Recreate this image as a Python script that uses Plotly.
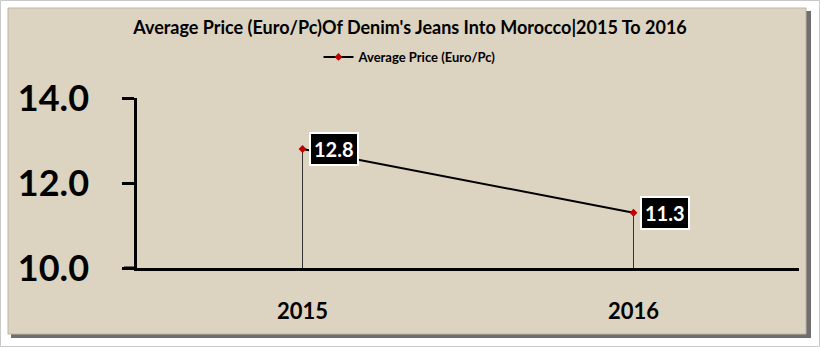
import plotly.graph_objects as go

years = ["2015", "2016"]
prices = [12.8, 11.3]
series_name = "Average Price (Euro/Pc)"
title_text = "Average Price (Euro/Pc)Of Denim's Jeans Into Morocco|2015 To 2016"
y_ticks = [10, 12, 14]

W, H = 820, 347
L, R, T, B = 137, 21, 98, 79
pw, ph = W - L - R, H - T - B

def px_x(x):
    return (x - L) / pw

def px_y(y):
    return (H - B - y) / ph

FONT = "Lato, 'Open Sans', sans-serif"
BEIGE = "#DCD3C0"

fig = go.Figure()
fig.add_trace(go.Scatter(
    x=years, y=prices, mode="lines+markers", name=series_name,
    line=dict(color="black", width=2),
    marker=dict(symbol="diamond", size=6, color="#C00000"),
    error_y=dict(type="data", symmetric=False,
                 array=[0 for _ in prices],
                 arrayminus=[p - y_ticks[0] for p in prices],
                 thickness=1, width=0, color="#333333"),
))

for i, yv in enumerate(prices):
    fig.add_annotation(
        x=i, y=yv, xref="x", yref="y", text=f"<b>{yv:.1f}</b>", showarrow=False,
        xanchor="left", yanchor="middle", xshift=6,
        font=dict(family=FONT, size=20, color="white"),
        bgcolor="black", bordercolor="white", borderwidth=2, borderpad=3,
    )

shapes = [
    dict(type="rect", xref="paper", yref="paper", layer="below",
         x0=px_x(0.5), x1=px_x(W - 0.5), y0=px_y(0.5), y1=px_y(H - 0.5),
         line=dict(color="#C8C8C8", width=1), fillcolor="white"),
    dict(type="rect", xref="paper", yref="paper", layer="below",
         x0=px_x(11), x1=px_x(811), y0=px_y(11), y1=px_y(338),
         line=dict(width=0), fillcolor="#6E6E6E"),
    dict(type="rect", xref="paper", yref="paper", layer="below",
         x0=px_x(8), x1=px_x(806), y0=px_y(8), y1=px_y(334),
         line=dict(color="#BDB5A5", width=1), fillcolor=BEIGE),
    dict(type="line", xref="paper", yref="paper",
         x0=px_x(124), x1=px_x(137), y0=0, y1=0,
         line=dict(color="black", width=3)),
]

fig.update_layout(
    width=W, height=H,
    margin=dict(l=L, r=R, t=T, b=B),
    paper_bgcolor="white", plot_bgcolor=BEIGE,
    font=dict(family=FONT, color="black"),
    title=dict(text="<b>" + title_text + "</b>", x=410 / W, xanchor="center",
               y=1 - 28 / H, yanchor="middle",
               font=dict(family=FONT, size=18, color="black")),
    showlegend=True,
    legend=dict(x=px_x(410), xanchor="center", y=px_y(57), yanchor="middle",
                orientation="h", bgcolor="rgba(0,0,0,0)",
                font=dict(family=FONT, size=13, color="black", weight="bold"),
                itemwidth=30),
    shapes=shapes,
    xaxis=dict(type="category", range=[-0.5, 1.5], showgrid=False,
               showline=True, linecolor="black", linewidth=3,
               ticks="", ticklabelstandoff=22,
               tickfont=dict(family=FONT, size=22, color="black", weight="bold"),
               zeroline=False, fixedrange=True),
    yaxis=dict(range=[10, 14], tickvals=y_ticks, tickformat=".1f",
               showgrid=False, zeroline=False,
               showline=True, linecolor="black", linewidth=2.5,
               ticks="outside", ticklen=12, tickwidth=2.5, tickcolor="black",
               ticklabelstandoff=26,
               tickfont=dict(family=FONT, size=36, color="black", weight="bold"),
               fixedrange=True),
)

fig.write_html("out.html")
